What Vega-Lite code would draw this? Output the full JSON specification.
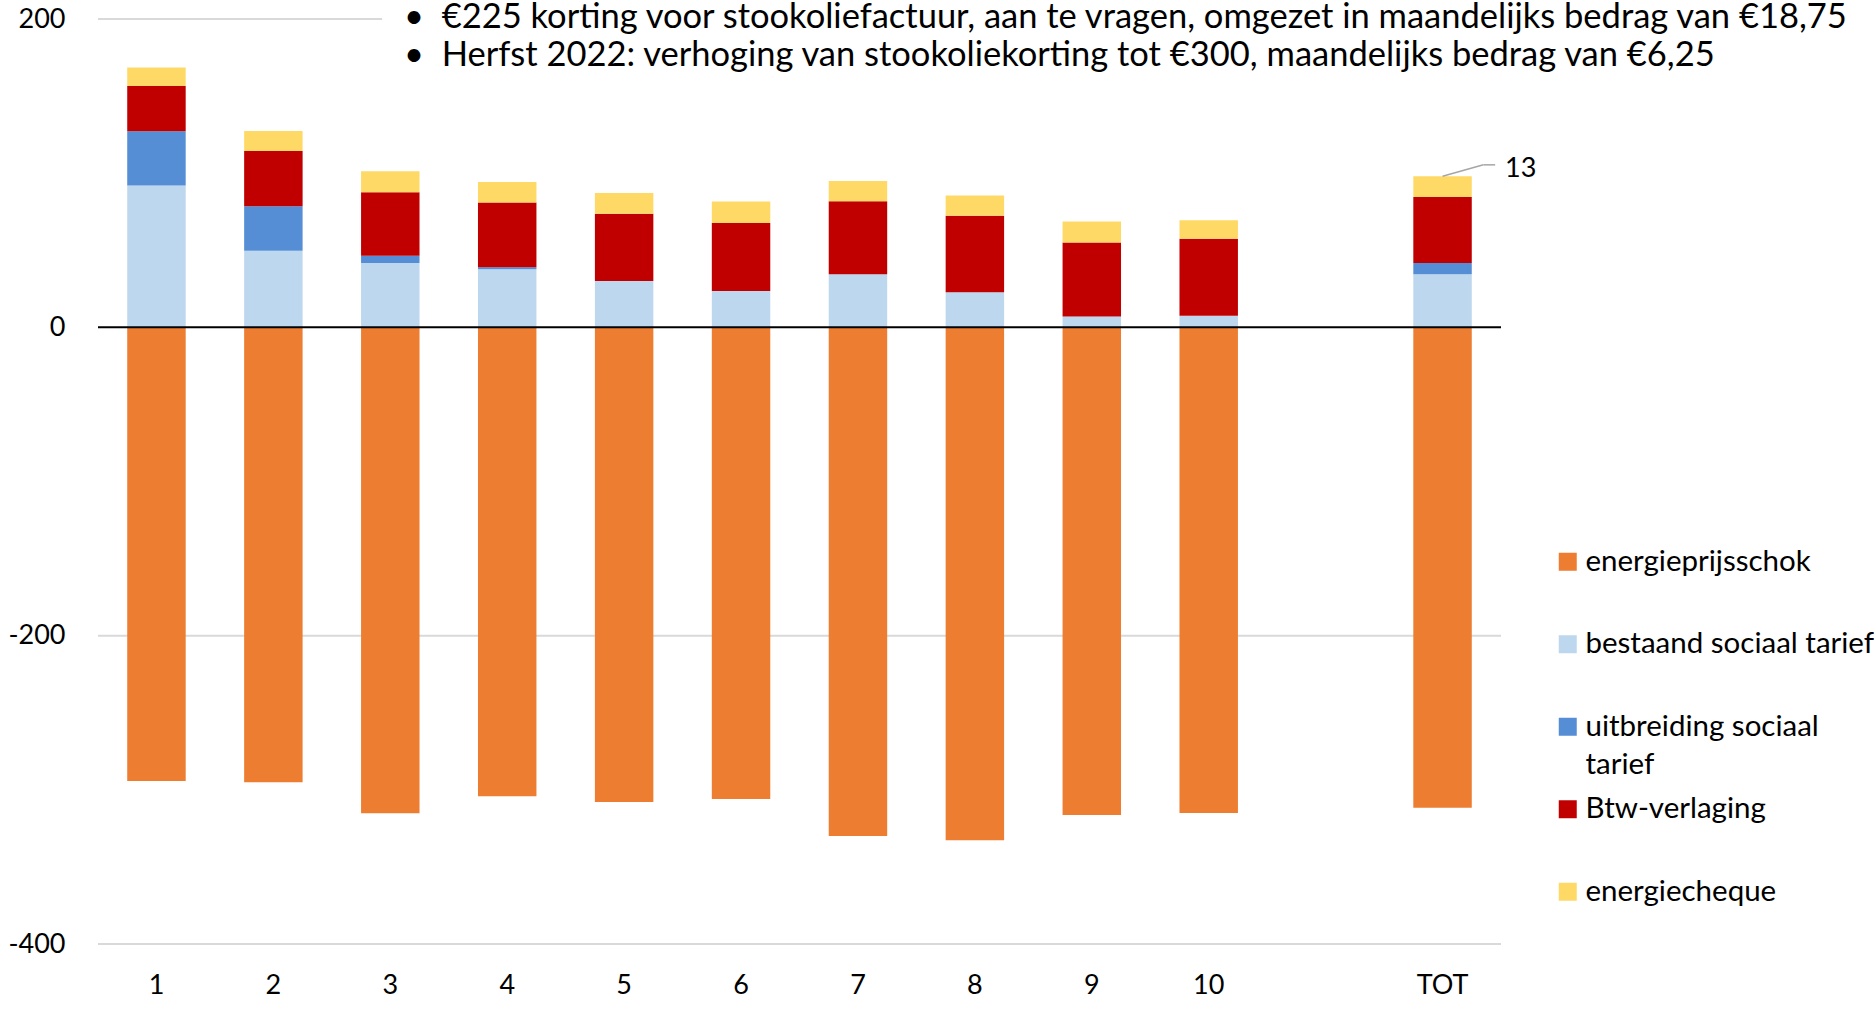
{
  "$schema": "https://vega.github.io/schema/vega-lite/v6.json",
  "width": 1403,
  "height": 925,
  "autosize": {"type": "none"},
  "padding": {"left": 98, "top": 19, "right": 373, "bottom": 65},
  "background": "white",
  "config": {
    "view": {"stroke": null},
    "font": "Lato",
    "style": {"guide-label": {"lineHeight": 38}}
  },
  "title": {
    "text": [
      "•\u00a0\u00a0€225 korting voor stookoliefactuur, aan te vragen, omgezet in maandelijks bedrag van €18,75",
      "•\u00a0\u00a0Herfst 2022: verhoging van stookoliekorting tot €300, maandelijks bedrag van €6,25"
    ],
    "anchor": "start",
    "frame": "group",
    "orient": "top",
    "dx": 306,
    "dy": 68,
    "offset": 0,
    "fontSize": 34.5,
    "font": "Lato",
    "fontWeight": "normal",
    "color": "black",
    "lineHeight": 38,
    "baseline": "top"
  },
  "datasets": {
    "components": [
      {"component": "energieprijsschok", "rank": 0},
      {"component": "bestaand sociaal tarief", "rank": 1},
      {"component": "uitbreiding sociaal tarief", "rank": 2},
      {"component": "Btw-verlaging", "rank": 3},
      {"component": "energiecheque", "rank": 4}
    ],
    "bars": [
      {"cat": "1", "component": "energieprijsschok", "value": -294.2},
      {"cat": "1", "component": "bestaand sociaal tarief", "value": 92.0},
      {"cat": "1", "component": "uitbreiding sociaal tarief", "value": 35.2},
      {"cat": "1", "component": "Btw-verlaging", "value": 29.4},
      {"cat": "1", "component": "energiecheque", "value": 11.9},
      {"cat": "2", "component": "energieprijsschok", "value": -295.1},
      {"cat": "2", "component": "bestaand sociaal tarief", "value": 49.6},
      {"cat": "2", "component": "uitbreiding sociaal tarief", "value": 29.0},
      {"cat": "2", "component": "Btw-verlaging", "value": 35.8},
      {"cat": "2", "component": "energiecheque", "value": 13.0},
      {"cat": "3", "component": "energieprijsschok", "value": -315.2},
      {"cat": "3", "component": "bestaand sociaal tarief", "value": 41.7},
      {"cat": "3", "component": "uitbreiding sociaal tarief", "value": 4.7},
      {"cat": "3", "component": "Btw-verlaging", "value": 41.3},
      {"cat": "3", "component": "energiecheque", "value": 13.6},
      {"cat": "4", "component": "energieprijsschok", "value": -304.2},
      {"cat": "4", "component": "bestaand sociaal tarief", "value": 37.6},
      {"cat": "4", "component": "uitbreiding sociaal tarief", "value": 1.3},
      {"cat": "4", "component": "Btw-verlaging", "value": 42.1},
      {"cat": "4", "component": "energiecheque", "value": 13.2},
      {"cat": "5", "component": "energieprijsschok", "value": -307.9},
      {"cat": "5", "component": "bestaand sociaal tarief", "value": 30.0},
      {"cat": "5", "component": "uitbreiding sociaal tarief", "value": 0},
      {"cat": "5", "component": "Btw-verlaging", "value": 43.6},
      {"cat": "5", "component": "energiecheque", "value": 13.6},
      {"cat": "6", "component": "energieprijsschok", "value": -305.9},
      {"cat": "6", "component": "bestaand sociaal tarief", "value": 23.5},
      {"cat": "6", "component": "uitbreiding sociaal tarief", "value": 0},
      {"cat": "6", "component": "Btw-verlaging", "value": 44.1},
      {"cat": "6", "component": "energiecheque", "value": 14.1},
      {"cat": "7", "component": "energieprijsschok", "value": -329.9},
      {"cat": "7", "component": "bestaand sociaal tarief", "value": 34.5},
      {"cat": "7", "component": "uitbreiding sociaal tarief", "value": 0},
      {"cat": "7", "component": "Btw-verlaging", "value": 47.3},
      {"cat": "7", "component": "energiecheque", "value": 13.2},
      {"cat": "8", "component": "energieprijsschok", "value": -332.7},
      {"cat": "8", "component": "bestaand sociaal tarief", "value": 22.7},
      {"cat": "8", "component": "uitbreiding sociaal tarief", "value": 0},
      {"cat": "8", "component": "Btw-verlaging", "value": 49.6},
      {"cat": "8", "component": "energiecheque", "value": 13.2},
      {"cat": "9", "component": "energieprijsschok", "value": -316.3},
      {"cat": "9", "component": "bestaand sociaal tarief", "value": 7.1},
      {"cat": "9", "component": "uitbreiding sociaal tarief", "value": 0},
      {"cat": "9", "component": "Btw-verlaging", "value": 48.0},
      {"cat": "9", "component": "energiecheque", "value": 13.6},
      {"cat": "10", "component": "energieprijsschok", "value": -315.0},
      {"cat": "10", "component": "bestaand sociaal tarief", "value": 7.5},
      {"cat": "10", "component": "uitbreiding sociaal tarief", "value": 0},
      {"cat": "10", "component": "Btw-verlaging", "value": 49.9},
      {"cat": "10", "component": "energiecheque", "value": 12.1},
      {"cat": "TOT", "component": "energieprijsschok", "value": -311.7},
      {"cat": "TOT", "component": "bestaand sociaal tarief", "value": 34.5},
      {"cat": "TOT", "component": "uitbreiding sociaal tarief", "value": 7.3},
      {"cat": "TOT", "component": "Btw-verlaging", "value": 42.8},
      {"cat": "TOT", "component": "energiecheque", "value": 13.4}
    ]
  },
  "encoding": {
    "x": {
      "field": "cat",
      "type": "nominal",
      "scale": {
        "domain": ["1", "2", "3", "4", "5", "6", "7", "8", "9", "10", " ", "TOT"],
        "paddingInner": 0.5,
        "paddingOuter": 0.25
      },
      "axis": {
        "title": null,
        "labelAngle": 0,
        "domain": false,
        "ticks": false,
        "labelPadding": 28,
        "labelFontSize": 27,
        "labelColor": "black",
        "labelFont": "Lato"
      }
    }
  },
  "layer": [
    {
      "data": {"values": [{"v": -400}, {"v": -200}]},
      "mark": {"type": "rule", "color": "#D9D9D9", "strokeWidth": 2},
      "encoding": {"x": null, "y": {"field": "v", "type": "quantitative"}}
    },
    {
      "data": {"values": [{"v": 200}]},
      "mark": {"type": "rule", "color": "#D9D9D9", "strokeWidth": 2},
      "encoding": {
        "x": {"datum": "1", "bandPosition": -0.5},
        "x2": {"datum": "3", "bandPosition": 0.36},
        "y": {"field": "v", "type": "quantitative"}
      }
    },
    {
      "data": {"name": "bars"},
      "transform": [
        {"lookup": "component", "from": {"data": {"name": "components"}, "key": "component", "fields": ["rank"]}}
      ],
      "mark": {"type": "bar"},
      "encoding": {
        "y": {
          "field": "value",
          "type": "quantitative",
          "stack": "zero",
          "scale": {"domain": [-400, 200], "nice": false},
          "axis": {
            "title": null,
            "values": [-400, -200, 0, 200],
            "labelExpr": "'' + datum.value",
            "grid": false,
            "domain": false,
            "ticks": false,
            "labelPadding": 33,
            "labelFontSize": 27,
            "labelColor": "black",
            "labelFont": "Lato"
          }
        },
        "order": {"field": "rank", "type": "quantitative", "sort": "ascending"},
        "color": {
          "field": "component",
          "type": "nominal",
          "sort": ["energieprijsschok", "bestaand sociaal tarief", "uitbreiding sociaal tarief", "Btw-verlaging", "energiecheque"],
          "scale": {
            "domain": ["energieprijsschok", "bestaand sociaal tarief", "uitbreiding sociaal tarief", "Btw-verlaging", "energiecheque"],
            "range": ["#ED7D31", "#BDD7EE", "#558ED5", "#C00000", "#FFD966"]
          },
          "legend": {
            "title": null,
            "orient": "none",
            "legendX": 1455,
            "legendY": 528,
            "padding": 0,
            "gridAlign": "all",
            "symbolType": "square",
            "symbolSize": 324,
            "symbolStrokeWidth": 0,
            "labelFontSize": 29.5,
            "labelFont": "Lato",
            "labelColor": "black",
            "labelOffset": 3,
            "labelLimit": 400,
            "rowPadding": 13.5,
            "labelExpr": "datum.label == 'uitbreiding sociaal tarief' ? ['uitbreiding sociaal', 'tarief'] : datum.label"
          }
        }
      }
    },
    {
      "data": {"values": [{"v": 0}]},
      "mark": {"type": "rule", "color": "black", "strokeWidth": 2},
      "encoding": {"x": null, "y": {"field": "v", "type": "quantitative"}}
    },
    {
      "data": {"values": [{"y1": 98.0, "y2": 105.4}]},
      "mark": {"type": "rule", "color": "#A6A6A6", "strokeWidth": 1.5},
      "encoding": {
        "x": {"datum": "TOT", "bandPosition": 0.5},
        "x2": {"datum": "TOT", "bandPosition": 1.2},
        "y": {"field": "y1", "type": "quantitative"},
        "y2": {"field": "y2"}
      }
    },
    {
      "data": {"values": [{"y1": 105.4}]},
      "mark": {"type": "rule", "color": "#A6A6A6", "strokeWidth": 1.5},
      "encoding": {
        "x": {"datum": "TOT", "bandPosition": 1.2},
        "x2": {"datum": "TOT", "bandPosition": 1.4},
        "y": {"field": "y1", "type": "quantitative"}
      }
    },
    {
      "data": {"values": [{"cat": "TOT", "v": 102.8, "label": "13"}]},
      "mark": {"type": "text", "align": "left", "baseline": "middle", "fontSize": 27, "font": "Lato", "color": "black"},
      "encoding": {
        "x": {"field": "cat", "type": "nominal", "bandPosition": 1.57},
        "y": {"field": "v", "type": "quantitative"},
        "text": {"field": "label"}
      }
    }
  ]
}
